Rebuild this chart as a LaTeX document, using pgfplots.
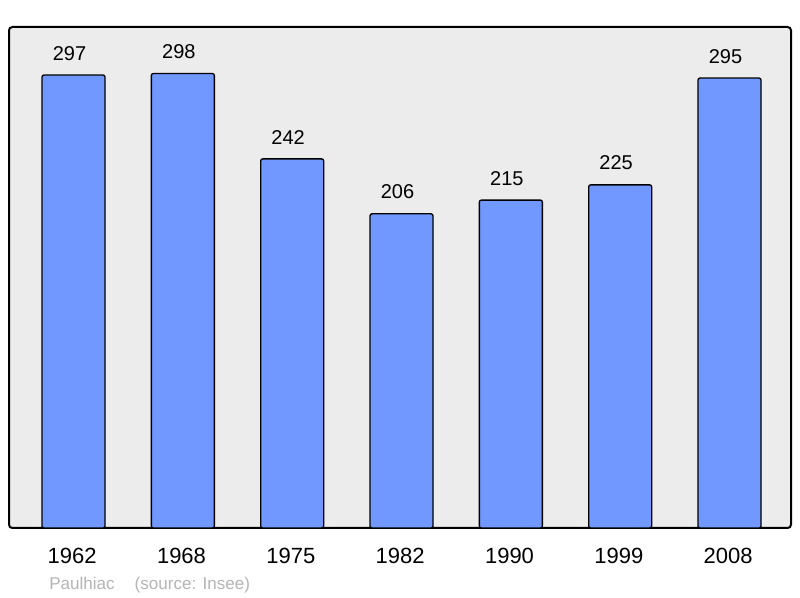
\documentclass[border=0pt]{standalone}
\usepackage{pgfplots}
\pgfplotsset{compat=1.18}
\usepackage{fontspec}
\setmainfont{Liberation Sans}
\definecolor{barblue}{RGB}{112,152,255}
\definecolor{panel}{RGB}{236,236,236}
\definecolor{note}{RGB}{180,180,180}
\begin{document}
\begin{tikzpicture}
  \begin{axis}[
    name=ax,
    scale only axis,
    width=586.5pt, height=375.75pt,
    xmin=-0.59, xmax=6.5625,
    ymin=0, ymax=328.5,
    ybar, bar width=47.25pt,
    xtick=data,
    xticklabels={1962,1968,1975,1982,1990,1999,2008},
    ytick=\empty,
    major tick length=0pt,
    axis line style={draw=none},
    axis background/.style={fill=panel, draw=black, line width=1.5pt, rounded corners=2.5pt},
    xticklabel style={anchor=north, inner sep=0pt, yshift=-15pt, xshift=-1pt, font=\fontsize{16.5}{18}\selectfont},
    /pgf/number format/assume math mode=true,
    nodes near coords,
    every node near coord/.style={anchor=south, inner sep=0pt, yshift=10.5pt, xshift=-3pt, font=\fontsize{15}{17}\selectfont, black},
  ]
  \addplot [fill=barblue, draw=black, line width=1pt, rounded corners=1.5pt] coordinates {
(0,297)
(1,298)
(2,242)
(3,206)
(4,215)
(5,225)
(6,295)};
  \end{axis}
  \node[anchor=base west, inner sep=0pt, text=note, font=\fontsize{12.8}{14}\selectfont]
    at ([xshift=30pt, yshift=-46.5pt]ax.south west) {Paulhiac\hspace{15pt}(source: Insee)};
  \pgfresetboundingbox
  \path ([xshift=-6.75pt, yshift=-52.5pt]ax.south west) rectangle ++(600pt,448.5pt);
\end{tikzpicture}
\end{document}
